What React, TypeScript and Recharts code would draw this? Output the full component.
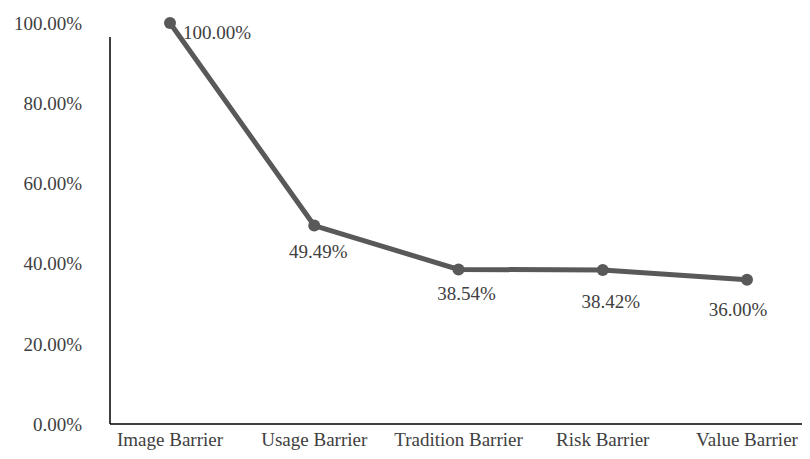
import { LineChart, Line, XAxis, YAxis, LabelList } from "recharts";

const categories = ["Image Barrier", "Usage Barrier", "Tradition Barrier", "Risk Barrier", "Value Barrier"];
const shares = [100.0, 49.49, 38.54, 38.42, 36.0];
const yTicks = [0, 20, 40, 60, 80, 100];

const data = categories.map((name, i) => ({ name, value: shares[i] }));

// label placement relative to the point (dx of label centre, dy of label centre)
const labelShift = [
  { dx: 47, dy: 9 },
  { dx: 4, dy: 26 },
  { dx: 8, dy: 24 },
  { dx: 8, dy: 32 },
  { dx: -9, dy: 30 },
];

const font = "'Liberation Serif', 'Times New Roman', serif";
const textColor = "#404040";
const lineColor = "#595959";

const renderLabel = (props: any) => {
  const { x, y, value, index } = props;
  const s = labelShift[index] || { dx: 0, dy: 25 };
  return (
    <text
      x={x + s.dx}
      y={y + s.dy}
      textAnchor="middle"
      dominantBaseline="central"
      fontFamily={font}
      fontSize={19}
      fill={textColor}
    >
      {Number(value).toFixed(2)}%
    </text>
  );
};

export default function App() {
  return (
    <LineChart width={802} height={451} data={data} margin={{ top: 15, right: 0, bottom: 5, left: 0 }}>
      <XAxis
        dataKey="name"
        padding={{ left: 60, right: 63 }}
        tickLine={false}
        tickSize={0}
        tickMargin={9}
        height={30}
        axisLine={{ stroke: "#000", strokeWidth: 1.5 }}
        tick={{ fontFamily: font, fontSize: 19, fill: textColor }}
        interval={0}
      />
      <YAxis
        domain={[0, 100]}
        ticks={yTicks}
        width={102}
        tickLine={false}
        tickSize={0}
        tickMargin={28}
        axisLine={{ stroke: "#000", strokeWidth: 1.5, strokeDasharray: "0 14 400" }}
        tickFormatter={(v: number) => `${v.toFixed(2)}%`}
        tick={{ fontFamily: font, fontSize: 19, fill: textColor }}
      />
      <Line
        type="linear"
        dataKey="value"
        stroke={lineColor}
        strokeWidth={5}
        dot={{ r: 6, fill: lineColor, stroke: lineColor, strokeWidth: 0 }}
        isAnimationActive={false}
      >
        <LabelList dataKey="value" content={renderLabel} />
      </Line>
    </LineChart>
  );
}
